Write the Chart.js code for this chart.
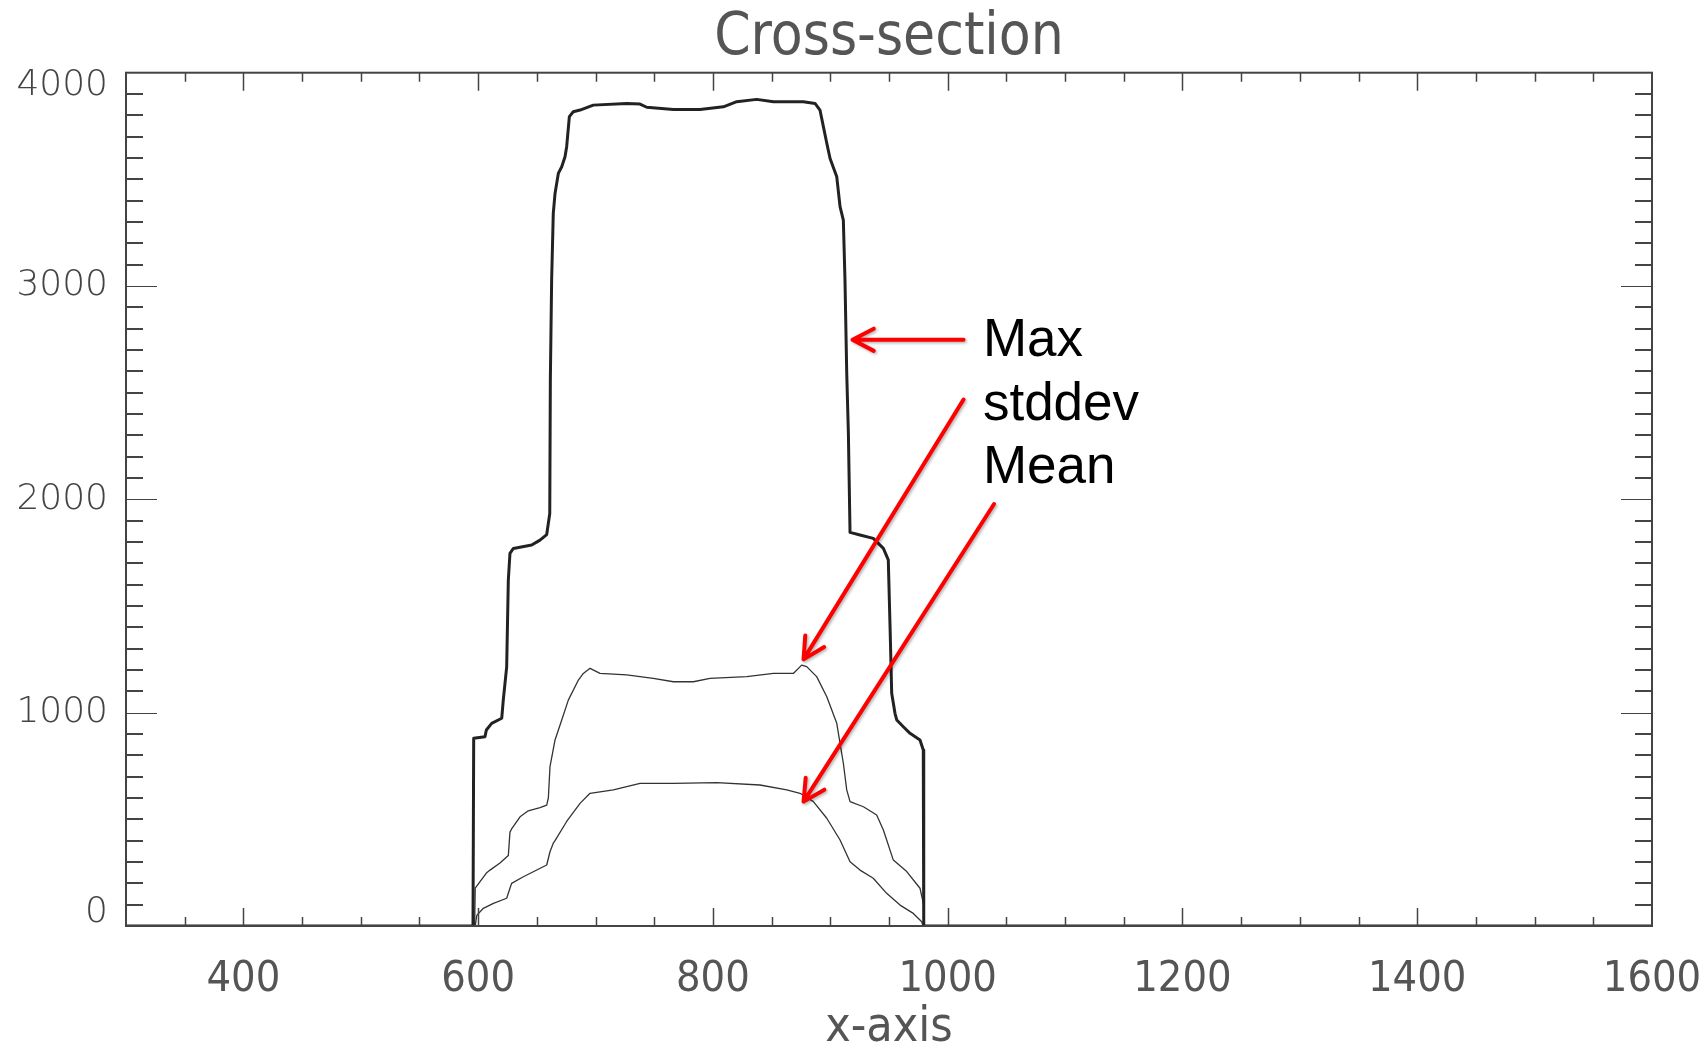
<!DOCTYPE html>
<html>
<head>
<meta charset="utf-8">
<title>Cross-section</title>
<script src="https://cdn.jsdelivr.net/npm/chart.js@4.4.1/dist/chart.umd.min.js"></script>
<style>
  html, body { margin: 0; padding: 0; background: #fff; }
  canvas { display: block; }
</style>
</head>
<body>
<canvas id="chart" width="1707" height="1045"></canvas>
<script>
'use strict';

// axis ranges and tick labels
const xRange = [300, 1600];
const yRange = [0, 4000];
const xTicks = [400, 600, 800, 1000, 1200, 1400, 1600];
const yTicks = [0, 1000, 2000, 3000, 4000];

// Max (thick line)
const maxX = [300, 595.6, 596.2, 605.8, 607, 611.5, 620.1, 621.4, 624.3, 625.7, 627.1, 630, 645.6,
  652.7, 658.4, 661, 661.5, 662.6, 664, 665.5, 668.3, 671.2, 674, 675.4, 677.7, 681, 686.8, 698.1,
  726.5, 737.9, 743.6, 766.3, 789, 808.9, 820.3, 837.3, 851.5, 877, 887, 891.2, 894.1, 897, 899.8,
  905.5, 908.3, 911.1, 912.5, 914, 915.4, 916.8, 925.3, 936.6, 945.2, 949.4, 950.9, 952.3, 955.1,
  956.6, 962.2, 967.9, 976.4, 979.2, 979.6, 1600];
const maxY = [0, 0, 880, 887, 919, 950, 974, 1059, 1215, 1622, 1747, 1770, 1786,
  1809, 1835, 1934, 2559, 3028, 3341, 3434, 3528, 3559, 3606, 3653, 3794, 3817, 3825, 3848,
  3856, 3853, 3838, 3828, 3828, 3840, 3864, 3875, 3864, 3864, 3856, 3825, 3747, 3669, 3598,
  3512, 3372, 3309, 3028, 2591, 2309, 1845, 1833, 1817, 1770, 1716, 1403, 1091, 997,
  966, 934, 903, 872, 825, 0, 0];

// stddev (thin, upper)
const sdX = [300, 597, 597.5, 601.6, 607.3, 610.1, 618.6, 625.7, 627.1, 628.5, 635.7, 642.7, 652.7,
  658.4, 659.8, 661.2, 665.5, 671.2, 676.8, 685.4, 689.6, 695.3, 703.8, 726.5, 749.2, 766.3, 783.3,
  797.5, 828.8, 851.5, 868.5, 875.6, 879.9, 888.4, 897, 905.5, 908.3, 911.1, 914, 916.8, 928.2,
  939.5, 945.2, 953.7, 965.1, 976.4, 979.5, 980, 1600];
const sdY = [0, 0, 177, 208, 250, 262, 295, 330, 440, 455, 512, 540, 555,
  567, 600, 747, 872, 966, 1059, 1153, 1184, 1208, 1184, 1177, 1161, 1145, 1145,
  1161, 1169, 1184, 1184, 1223, 1216, 1169, 1075, 950, 856, 763, 638, 583, 559,
  520, 450, 309, 255, 177, 100, 0, 0];

// Mean (thin, lower)
const meanX = [300, 597.5, 598.8, 604.4, 613, 624.3, 627.1, 628.5, 638.5, 658.4, 661.2, 664, 665.5,
  675.4, 686.8, 695.3, 715.2, 737.9, 766.3, 803.2, 840.1, 862.9, 874.2, 885.6, 897, 908.3, 916.8,
  925.3, 936.6, 948, 959.4, 970.7, 977.9, 979, 1600];
const meanY = [0, 0, 50, 83, 106, 130, 177, 200, 231, 286, 348, 388, 400,
  490, 575, 622, 638, 669, 669, 672, 661, 638, 622, 583, 505, 403, 301,
  262, 224, 153, 98, 59, 20, 0, 0];

// red call-outs, in data units
const noteLabels = ['Max', 'stddev', 'Mean'];
const noteTextAt = [[1030, 2672], [1030, 2372], [1030, 2075]];
const noteArrows = [
  { from: [1013.5, 2748], to: [918.9, 2748] },
  { from: [1013.5, 2468], to: [877.2, 1250] },
  { from: [1039.5, 1978], to: [877.2, 583] },
];

const AXIS_COLOR = '#444';
const TEXT_COLOR = '#555';
const NARROW = "'DejaVu Sans Condensed', 'Liberation Sans Narrow', 'DejaVu Sans', sans-serif";
const WIDE = "'DejaVu Sans', Verdana, sans-serif";

const toPoints = (xs, ys) => xs.map((x, i) => ({ x: x, y: ys[i] }));

// IDL style frame: box on all four sides, ticks pointing inwards
const insideTicks = {
  id: 'insideTicks',
  afterDatasetsDraw(chart) {
    const { ctx, chartArea: a, scales: { x, y } } = chart;
    ctx.save();
    ctx.strokeStyle = AXIS_COLOR;
    ctx.lineWidth = 2;
    ctx.strokeRect(a.left, a.top, a.right - a.left, a.bottom - a.top);

    ctx.lineWidth = 1.5;
    for (let v = Math.ceil(x.min / 50) * 50; v < x.max; v += 50) {
      if (v <= x.min) continue;
      const px = Math.round(x.getPixelForValue(v)) + 0.5;
      const len = v % 200 === 0 ? 18 : 9;
      ctx.beginPath();
      ctx.moveTo(px, a.bottom);
      ctx.lineTo(px, a.bottom - len);
      ctx.moveTo(px, a.top);
      ctx.lineTo(px, a.top + len);
      ctx.stroke();
    }
    for (let v = 100; v < y.max; v += 100) {
      const major = v % 1000 === 0;
      const py = Math.round(y.getPixelForValue(v)) + (major ? 0.5 : 0);
      const len = major ? 31 : 17;
      ctx.lineWidth = major ? 1.2 : 2;
      ctx.beginPath();
      ctx.moveTo(a.left, py);
      ctx.lineTo(a.left + len, py);
      ctx.moveTo(a.right, py);
      ctx.lineTo(a.right - len, py);
      ctx.stroke();
    }
    ctx.restore();
  }
};

// red arrows and their labels
const callouts = {
  id: 'callouts',
  afterDraw(chart) {
    const { ctx, scales: { x, y } } = chart;
    ctx.save();
    ctx.strokeStyle = '#ff0000';
    ctx.lineWidth = 4;
    ctx.lineCap = 'round';
    ctx.lineJoin = 'round';
    ctx.shadowColor = 'rgba(0, 0, 0, 0.3)';
    ctx.shadowBlur = 3;
    ctx.shadowOffsetX = 1.5;
    ctx.shadowOffsetY = 1.5;
    noteArrows.forEach(arr => {
      const x0 = x.getPixelForValue(arr.from[0]);
      const y0 = y.getPixelForValue(arr.from[1]);
      const x1 = x.getPixelForValue(arr.to[0]);
      const y1 = y.getPixelForValue(arr.to[1]);
      const ang = Math.atan2(y0 - y1, x0 - x1);
      const head = 24;
      const spread = 0.48;
      ctx.beginPath();
      ctx.moveTo(x0, y0);
      ctx.lineTo(x1, y1);
      ctx.moveTo(x1 + head * Math.cos(ang - spread), y1 + head * Math.sin(ang - spread));
      ctx.lineTo(x1, y1);
      ctx.lineTo(x1 + head * Math.cos(ang + spread), y1 + head * Math.sin(ang + spread));
      ctx.stroke();
    });
    ctx.restore();

    ctx.save();
    ctx.fillStyle = '#000';
    ctx.font = "53px 'Liberation Sans', Arial, sans-serif";
    ctx.textBaseline = 'alphabetic';
    noteLabels.forEach((t, i) => {
      ctx.fillText(t, x.getPixelForValue(noteTextAt[i][0]), y.getPixelForValue(noteTextAt[i][1]));
    });
    ctx.restore();
  }
};

new Chart(document.getElementById('chart'), {
  type: 'line',
  data: {
    datasets: [
      { label: 'Max', data: toPoints(maxX, maxY), borderColor: '#222', borderWidth: 3 },
      { label: 'stddev', data: toPoints(sdX, sdY), borderColor: '#333', borderWidth: 1.3 },
      { label: 'Mean', data: toPoints(meanX, meanY), borderColor: '#333', borderWidth: 1.3 },
    ],
  },
  options: {
    responsive: false,
    animation: false,
    devicePixelRatio: 1,
    elements: {
      point: { radius: 0 },
      line: { tension: 0, borderJoinStyle: 'round' },
    },
    layout: { padding: { left: 0, right: 55, top: 0, bottom: 0 } },
    plugins: {
      legend: { display: false },
      tooltip: { enabled: false },
      title: {
        display: true,
        fullSize: false,
        text: 'Cross-section',
        color: TEXT_COLOR,
        font: { family: NARROW, size: 58, weight: 'normal', lineHeight: 1.15 },
        padding: { top: 6, bottom: 0 },
      },
    },
    scales: {
      x: {
        type: 'linear',
        min: xRange[0],
        max: xRange[1],
        grid: { display: false, drawTicks: false },
        border: { display: false },
        afterBuildTicks: s => { s.ticks = xTicks.map(v => ({ value: v })); },
        afterFit: s => { s.height = 119; },
        ticks: {
          color: TEXT_COLOR,
          // tall line box pushes the labels down without widening the side padding
          font: { family: NARROW, size: 43, lineHeight: 2.5 },
          padding: 0,
          maxRotation: 0,
          autoSkip: false,
          callback: v => String(v),
        },
        title: {
          display: true,
          text: 'x-axis',
          color: TEXT_COLOR,
          font: { family: NARROW, size: 48, lineHeight: 0.68 },
          padding: 0,
        },
      },
      y: {
        type: 'linear',
        min: yRange[0],
        max: yRange[1],
        grid: { display: false, drawTicks: false },
        border: { display: false },
        afterBuildTicks: s => { s.ticks = yTicks.map(v => ({ value: v })); },
        afterFit: s => { s.width = 126; },
        ticks: {
          color: '#444',
          font: { family: WIDE, size: 36, weight: 300, lineHeight: 0.72 },
          padding: 18,
          // end labels sit inside the frame, like IDL draws them
          callback: v => (v === yRange[1] ? ['', String(v)] : v === yRange[0] ? [String(v), ''] : String(v)),
        },
      },
    },
  },
  plugins: [insideTicks, callouts],
});
</script>
</body>
</html>
